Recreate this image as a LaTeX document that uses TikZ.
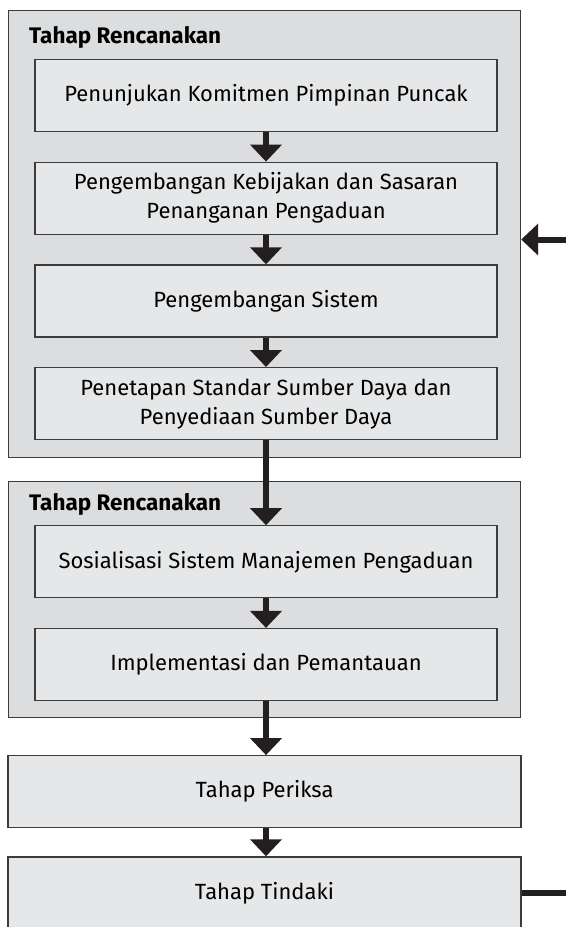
\documentclass[tikz,border=0pt]{standalone}
\usepackage{fontspec}
\setmainfont{Fira Sans}
\usetikzlibrary{positioning,arrows.meta}
\definecolor{stagegray}{HTML}{DCDDDE}
\definecolor{boxgray}{HTML}{E6E7E8}
\definecolor{edgegray}{HTML}{3C3C3C}
\definecolor{arrowblack}{HTML}{231F20}

\begin{document}
\begin{tikzpicture}[
    x=1pt, y=-1pt,
    node distance=29.5pt,
    stagebox/.style={draw=edgegray, line width=1.2pt, rectangle, fill=stagegray, anchor=north west, minimum width=512pt, inner sep=0pt},
    stagetitle/.style={anchor=base west, inner sep=0pt, font=\fontsize{22.5}{26}\selectfont\bfseries},
    flowstep/.style={draw=edgegray, line width=1.2pt, rectangle, fill=boxgray, minimum height=72pt, minimum width=462pt, align=center, font=\fontsize{22}{29}\selectfont},
    widestep/.style={flowstep, minimum width=513pt},
    arrow/.style={draw=arrowblack, line width=6pt, -{Triangle[width=31pt,length=17pt]}}
]
  \clip (0,0) rectangle (566,927);
  \fill[white] (0,0) rectangle (566,927);

  % Stages
  \node (plan) [stagebox, minimum height=447pt] at (8,10) {};
  \node (plantitle) [stagetitle] at (29,43) {Tahap Rencanakan};
  \node (do) [stagebox, minimum height=236pt] at (8,481) {};
  \node (dotitle) [stagetitle] at (29,510) {Tahap Rencanakan};

  % Nodes
  \node (s1) [flowstep] at (266,95.5) {Penunjukan Komitmen Pimpinan Puncak};
  \node (s2) [flowstep, below=of s1] {Pengembangan Kebijakan dan Sasaran\\Penanganan Pengaduan};
  \node (s3) [flowstep, below=of s2] {Pengembangan Sistem};
  \node (s4) [flowstep, below=of s3] {Penetapan Standar Sumber Daya dan\\Penyediaan Sumber Daya};
  \node (s5) [flowstep, below=85pt of s4] {Sosialisasi Sistem Manajemen Pengaduan};
  \node (s6) [flowstep, below=of s5] {Implementasi dan Pemantauan};
  \node (s7) [widestep, below=54pt of s6, xshift=-1.5pt] {Tahap Periksa};
  \node (s8) [widestep, below=28pt of s7] {Tahap Tindaki};

  \coordinate (backin) at (566,239.5);
  \coordinate (backout) at (566,0);

  % Arrows
  \draw [arrow] (s1) -- (s2);
  \draw [arrow] (s2) -- (s3);
  \draw [arrow] (s3) -- (s4);
  \draw [arrow] (s4) -- (s5);
  \draw [arrow] (s5) -- (s6);
  \draw [arrow] (s6) -- (s6 |- s7.north);
  \draw [arrow] (s7.south -| s6) -- (s6 |- s8.north);
  \draw [arrow] (backin) -- (plan.east |- backin);
  \draw [draw=arrowblack, line width=6pt] (s8.east) -- (s8.east -| backout);
\end{tikzpicture}
\end{document}
